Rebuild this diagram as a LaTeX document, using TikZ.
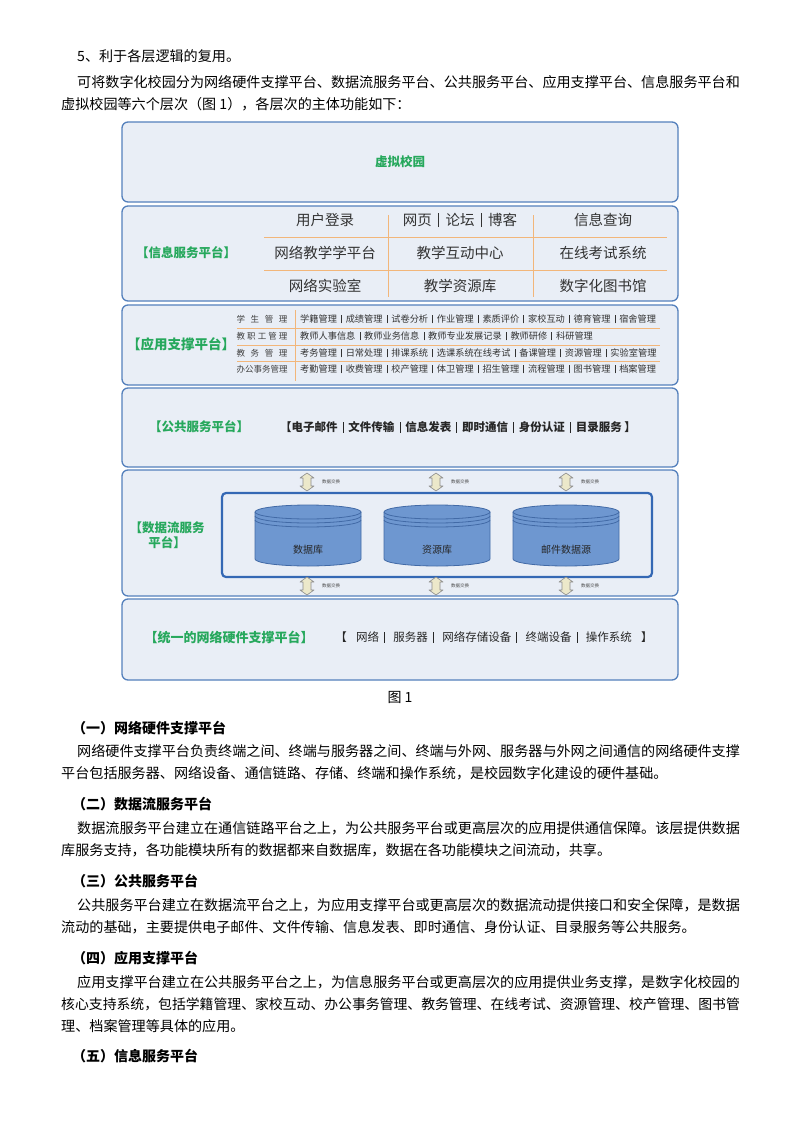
\documentclass[tikz,border=0pt]{standalone}
\usepackage{fontspec}
\setmainfont{Noto Sans CJK SC}
\usepackage{xcolor}
\definecolor{layerfill}{RGB}{233,238,246}
\definecolor{layerline}{RGB}{84,128,188}
\definecolor{innerline}{RGB}{52,104,180}
\definecolor{labelgreen}{RGB}{38,168,92}
\definecolor{gridline}{RGB}{242,182,122}
\definecolor{dbfill}{RGB}{110,151,208}
\definecolor{dbline}{RGB}{66,106,166}
\definecolor{xchgfill}{RGB}{236,232,202}
\newcommand{\vsep}{\hspace{0.45em}\rule[-0.12em]{0.5pt}{0.95em}\hspace{0.45em}}

\begin{document}
\begin{tikzpicture}[x=1pt,y=-1pt,
		layer/.style={draw=layerline,line width=1.3pt,fill=layerfill,rounded corners=6pt},
		tag/.style={text=labelgreen,font=\fontsize{12.5}{15}\selectfont\bfseries},
		cell/.style={text=black!80,font=\fontsize{14.5}{16}\selectfont},
		rowtag/.style={text=black!75,font=\fontsize{8.5}{10}\selectfont,inner sep=0pt},
		row/.style={anchor=west,text=black!80,font=\fontsize{9.2}{10}\selectfont,inner sep=0pt},
		item/.style={text=black!85,font=\fontsize{11.5}{13}\selectfont},
		grid/.style={draw=gridline,line width=0.9pt},
		xchg/.style={draw=black!45,fill=xchgfill,line width=0.6pt,line join=round},
		xlabel/.style={anchor=west,text=black!70,font=\fontsize{4.5}{5}\selectfont,inner sep=0pt},
		body/.style={anchor=west,inner sep=0pt,font=\fontsize{14.1}{16}\selectfont},
		head/.style={anchor=west,inner sep=0pt,font=\fontsize{14}{16}\selectfont\bfseries}]
	\fill[white] (0,0) rectangle (800,1132);
	\useasboundingbox (0,0) rectangle (800,1132);

	\node[body] (intro1) at (77,56) {5、利于各层逻辑的复用。};
	\node[body] (intro2) at (77,82) {可将数字化校园分为网络硬件支撑平台、数据流服务平台、公共服务平台、应用支撑平台、信息服务平台和};
	\node[body] (intro3) at (61,104) {虚拟校园等六个层次（图 1），各层次的主体功能如下：};

	\draw[layer] (122,122) rectangle (678,202);
	\draw[layer] (122,206) rectangle (678,301);
	\draw[layer] (122,305) rectangle (678,385);
	\draw[layer] (122,388) rectangle (678,467);
	\draw[layer] (122,470) rectangle (678,596);
	\draw[layer] (122,599) rectangle (678,680);

	\node[tag] (virtual) at (400,162) {虚拟校园};

	\node[tag] (info) at (186,253) {【信息服务平台】};
	\draw[grid] (264,237) -- (667,237) (264,270) -- (667,270);
	\draw[grid] (388,215) -- (388,297) (533,215) -- (533,297);
	\node[cell] (login) at (325,220) {用户登录};
	\node[cell] (web) at (460,220) {网页\vsep 论坛\vsep 博客};
	\node[cell] (query) at (603,220) {信息查询};
	\node[cell] (teachnet) at (325,253) {网络教学学平台};
	\node[cell] (interact) at (460,253) {教学互动中心};
	\node[cell] (exam) at (603,253) {在线考试系统};
	\node[cell] (lab) at (325,286) {网络实验室};
	\node[cell] (res) at (460,286) {教学资源库};
	\node[cell] (library) at (603,286) {数字化图书馆};

	\node[tag,font=\fontsize{13.5}{15}\selectfont\bfseries] (app) at (181,344) {【应用支撑平台】};
	\draw[grid] (237,328) -- (660,328) (237,345) -- (660,345) (237,361) -- (660,361);
	\draw[grid] (295,310) -- (295,381);
	\node[rowtag] (student) at (262,319) {学\hspace{5.6pt}生\hspace{5.6pt}管\hspace{5.6pt}理};
	\node[rowtag] (staff) at (262,336) {教\hspace{2.1pt}职\hspace{2.1pt}工\hspace{2.1pt}管\hspace{2.1pt}理};
	\node[rowtag] (affairs) at (262,353) {教\hspace{5.6pt}务\hspace{5.6pt}管\hspace{5.6pt}理};
	\node[rowtag] (office) at (262,369) {办公事务管理};
	\node[row] (studentrow) at (300,319) {学籍管理\vsep 成绩管理\vsep 试卷分析\vsep 作业管理\vsep 素质评价\vsep 家校互动\vsep 德育管理\vsep 宿舍管理};
	\node[row] (staffrow) at (300,336) {教师人事信息\vsep 教师业务信息\vsep 教师专业发展记录\vsep 教师研修\vsep 科研管理};
	\node[row] (affairsrow) at (300,353) {考务管理\vsep 日常处理\vsep 排课系统\vsep 选课系统在线考试\vsep 备课管理\vsep 资源管理\vsep 实验室管理};
	\node[row] (officerow) at (300,369) {考勤管理\vsep 收费管理\vsep 校产管理\vsep 体卫管理\vsep 招生管理\vsep 流程管理\vsep 图书管理\vsep 档案管理};

	\node[tag] (pub) at (199,427) {【公共服务平台】};
	\node[item,font=\fontsize{11.5}{13}\selectfont\bfseries] (pubitems) at (458,427) {【电子邮件\vsep 文件传输\vsep 信息发表\vsep 即时通信\vsep 身份认证\vsep 目录服务\ 】};

	\node[tag,align=center] (flow) at (167,535) {【数据流服务\\平台】};
	\draw[draw=innerline,line width=2.2pt,rounded corners=4pt] (222,493) rectangle (652,577);
	\foreach \cx/\name/\txt in {308/db/数据库,437/resdb/资源库,566/maildb/邮件数据源}{
		\filldraw[fill=dbfill,draw=dbline,line width=0.8pt] (\cx-53,512) -- (\cx-53,559) arc[start angle=180,end angle=360,x radius=53pt,y radius=7pt] -- (\cx+53,512);
		\filldraw[fill=dbfill,draw=dbline,line width=0.8pt] (\cx,512) ellipse[x radius=53pt,y radius=7pt];
		\draw[dbline,line width=0.8pt] (\cx-53,516) arc[start angle=180,end angle=360,x radius=53pt,y radius=7pt];
		\draw[dbline,line width=0.8pt] (\cx-53,520) arc[start angle=180,end angle=360,x radius=53pt,y radius=7pt];
		\node[text=black!85,font=\fontsize{10}{11}\selectfont] (\name) at (\cx,550) {\txt};
	}
	\foreach \ax/\k in {307/1,436/2,566/3}{
		\filldraw[xchg] (\ax,482) ++(0,-9) -- ++(7,5) -- ++(-3,0) -- ++(0,8) -- ++(3,0) -- ++(-7,5) -- ++(-7,-5) -- ++(3,0) -- ++(0,-8) -- ++(-3,0) -- cycle;
		\node[xlabel] (uplabel\k) at (\ax+15,482) {数据交换};
		\filldraw[xchg] (\ax,586) ++(0,-9) -- ++(7,5) -- ++(-3,0) -- ++(0,8) -- ++(3,0) -- ++(-7,5) -- ++(-7,-5) -- ++(3,0) -- ++(0,-8) -- ++(-3,0) -- cycle;
		\node[xlabel] (downlabel\k) at (\ax+15,586) {数据交换};
	}

	\node[tag,font=\fontsize{13}{15}\selectfont\bfseries] (hw) at (229,637) {【统一的网络硬件支撑平台】};
	\node[item] (hwitems) at (494,637) {【\hspace{0.8em}网络\vsep\hspace{0.3em}服务器\vsep\hspace{0.3em}网络存储设备\vsep\hspace{0.3em}终端设备\vsep\hspace{0.3em}操作系统\hspace{0.8em}】};

	\node[font=\fontsize{14}{16}\selectfont] (caption) at (400,697) {图 1};

	\node[head] (h1) at (72,728) {（一）网络硬件支撑平台};
	\node[body] (p1a) at (77,751) {网络硬件支撑平台负责终端之间、终端与服务器之间、终端与外网、服务器与外网之间通信的网络硬件支撑};
	\node[body] (p1b) at (61,773) {平台包括服务器、网络设备、通信链路、存储、终端和操作系统，是校园数字化建设的硬件基础。};

	\node[head] (h2) at (72,804) {（二）数据流服务平台};
	\node[body] (p2a) at (77,828) {数据流服务平台建立在通信链路平台之上，为公共服务平台或更高层次的应用提供通信保障。该层提供数据};
	\node[body] (p2b) at (61,850) {库服务支持，各功能模块所有的数据都来自数据库，数据在各功能模块之间流动，共享。};

	\node[head] (h3) at (72,881) {（三）公共服务平台};
	\node[body] (p3a) at (77,905) {公共服务平台建立在数据流平台之上，为应用支撑平台或更高层次的数据流动提供接口和安全保障，是数据};
	\node[body] (p3b) at (61,927) {流动的基础，主要提供电子邮件、文件传输、信息发表、即时通信、身份认证、目录服务等公共服务。};

	\node[head] (h4) at (72,958) {（四）应用支撑平台};
	\node[body] (p4a) at (77,982) {应用支撑平台建立在公共服务平台之上，为信息服务平台或更高层次的应用提供业务支撑，是数字化校园的};
	\node[body,font=\fontsize{13.85}{16}\selectfont] (p4b) at (61,1004) {核心支持系统，包括学籍管理、家校互动、办公事务管理、教务管理、在线考试、资源管理、校产管理、图书管};
	\node[body] (p4c) at (61,1026) {理、档案管理等具体的应用。};

	\node[head] (h5) at (72,1056) {（五）信息服务平台};
\end{tikzpicture}
\end{document}
